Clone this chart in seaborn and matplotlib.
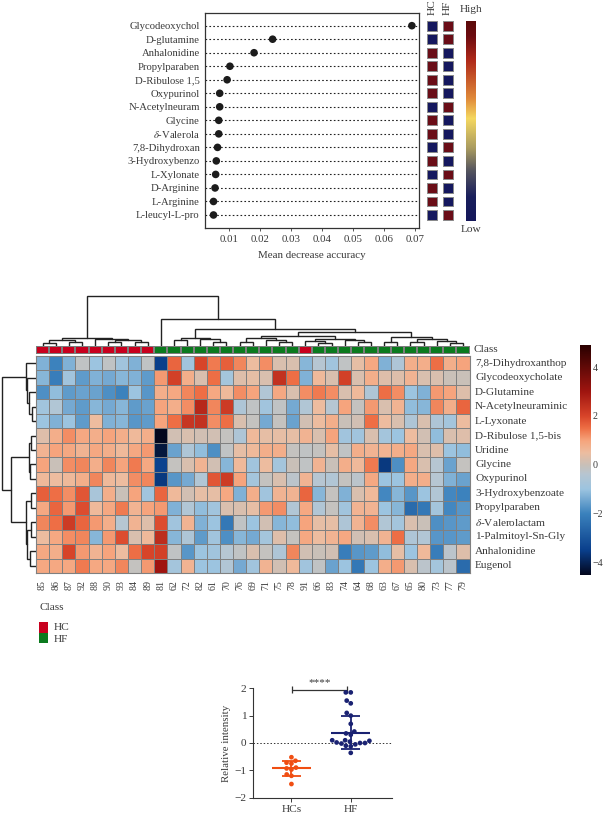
import numpy as np, pandas as pd, matplotlib
matplotlib.use("Agg")
import matplotlib.pyplot as plt
import seaborn as sns
from matplotlib.colors import LinearSegmentedColormap, ListedColormap

# ---------- data ----------
rf_names = ["Glycodeoxychol","D-glutamine","Anhalonidine","Propylparaben","D-Ribulose 1,5","Oxypurinol",
            "N-Acetylneuram","Glycine",r"$\delta$-Valerola","7,8-Dihydroxan","3-Hydroxybenzo","L-Xylonate",
            "D-Arginine","L-Arginine","L-leucyl-L-pro"]
rf_values = [.069,.024,.018,.0102,.0093,.0069,.0069,.0066,.0066,.0062,.0058,.0056,.0054,.0049,.0049]
hc_level = [0,0,1,1,1,1,0,1,1,0,1,0,1,1,0]
hf_level = [1,1,0,0,0,0,1,0,0,1,0,1,0,0,1]

col_labels = [85,86,87,92,88,90,93,84,89,81,62,72,82,61,70,76,69,71,75,78,91,66,83,74,64,68,63,67,65,80,73,77,79]
class_flags = [0]*9+[1]*11+[0]+[1]*12
row_labels = ["7,8-Dihydroxanthop","Glycodeoxycholate","D-Glutamine","N-Acetylneuraminic","L-Lyxonate",
              "D-Ribulose 1,5-bis","Uridine","Glycine","Oxypurinol","3-Hydroxybenzoate","Propylparaben",
              r"$\delta$-Valerolactam","1-Palmitoyl-Sn-Gly","Anhalonidine","Eugenol"]
heat = [
 [-1.3,-2.0,-1.3,-0.2,-1.0,-0.2,-0.9,-1.3,-0.2,-3.5,1.6,-0.9, 2.0,1.4,1.7,1.3,0.5,1.2,0.2,0.2,-1.2,-0.4,-0.9,-0.2,0.4, 0.9,-1.3,-0.6,0.8,0.8,1.5,0.8,1.0],
 [-1.2,-2.1,-0.9,-1.6,-1.3,-1.4,-1.2,-1.3,-1.6,1.1,2.1,0.8, 0.2,1.5,-0.8,0.3,0.4,0.2,2.4,1.5,-1.3,0.6,0.2,2.1,0.2, 0.8,0.3,0.3,0.7,0.2,0.2,0.0,0.0],
 [-1.8,-1.1,-1.6,-1.5,-1.5,-1.8,-2.0,-1.0,-1.7,0.8,0.9,1.3, 1.5,0.9,0.6,1.2,1.0,-0.5,0.9,0.2,1.2,1.4,1.2,0.2,0.6, -0.6,1.5,1.2,-1.0,-1.3,1.1,1.0,0.3],
 [-0.9,-0.5,-1.4,-1.6,-1.2,-1.4,-1.2,-1.6,-1.5,1.0,0.8,1.2, 2.6,1.3,2.2,-0.6,-0.2,-0.9,-0.2,-1.4,-0.5,0.5,-0.4,1.0,-0.1, 1.1,0.2,0.7,-1.1,-1.2,1.3,0.8,1.6],
 [-1.0,-1.3,-1.0,-1.6,0.5,-1.3,-1.2,-1.7,-1.6,1.0,1.5,2.3, 2.4,1.2,1.5,0.2,-0.1,-1.4,-0.1,-1.5,0.1,0.5,0.8,0.0,0.1, 1.5,0.5,0.2,-0.6,0.2,-0.6,-0.8,0.5],
 [0.3,0.8,1.2,0.9,0.8,1.0,0.8,0.6,0.8,-4.5,0.1,0.2, 0.1,0.1,-0.1,-0.6,0.6,0.4,0.4,0.4,0.7,0.2,1.0,-0.9,-0.9, 0.2,-0.8,-1.0,0.5,0.1,-1.1,0.2,0.3],
 [0.7,1.0,0.9,0.7,0.9,0.8,0.6,0.9,1.1,-4.2,-1.5,-0.6, -1.1,-1.8,-0.2,0.4,0.6,0.8,0.8,-0.1,-0.2,-0.1,0.4,-0.2,0.8, 0.7,0.7,0.8,0.9,0.2,0.3,-1.0,-1.1],
 [1.0,0.0,1.2,1.3,0.8,1.3,1.0,1.4,0.9,-3.4,-0.1,0.2, 0.7,0.1,-1.2,0.6,-0.9,0.5,-0.8,0.0,-0.2,0.7,0.0,0.8,0.6, 1.4,-3.6,-1.8,0.9,0.2,-0.4,-1.5,-0.1],
 [0.6,0.5,0.6,0.8,1.3,0.6,0.5,1.2,1.3,-3.6,-1.7,-1.4, -0.5,1.8,2.2,1.0,-0.8,-0.1,0.2,-0.3,0.7,-0.4,-0.5,-0.1,-0.3, 0.9,-1.0,-1.0,0.8,0.8,-0.4,-1.3,-1.5],
 [1.7,1.5,1.2,1.8,-0.7,0.8,0.0,1.0,-0.9,1.6,0.6,0.1, 0.4,0.4,0.9,-1.3,0.8,-0.9,0.7,0.7,1.6,-1.2,-0.1,-1.3,0.2, 0.6,-1.9,-1.2,-1.7,-1.0,-0.5,-1.9,-2.0],
 [0.9,1.6,1.1,1.9,0.6,0.9,1.4,0.7,1.0,1.1,-1.3,-0.5, -1.1,-0.9,0.2,0.2,0.4,1.1,1.2,-0.5,0.9,-0.5,-0.1,-0.9,0.7, 0.7,-1.0,-1.2,-2.5,-2.2,-0.8,-1.9,-1.7],
 [1.3,1.5,2.2,1.6,1.1,0.8,-0.4,0.7,0.3,1.9,-0.9,0.7, -1.3,-1.0,-2.2,-0.2,-1.0,0.1,-1.2,-1.1,1.0,0.4,0.4,-0.6,0.7, 1.2,-0.5,-0.8,0.2,0.0,-1.8,-1.7,-1.6],
 [0.5,0.9,1.2,1.3,-1.2,1.1,1.9,0.2,0.6,2.5,-1.2,-0.6, -1.6,-0.9,-1.8,-1.2,-1.4,-0.8,0.3,-0.1,0.9,0.5,0.7,0.9,0.1, 0.2,0.7,1.5,-0.6,-0.5,-1.7,-1.7,-1.6],
 [0.9,0.8,2.0,1.1,0.7,1.0,0.5,1.5,2.0,2.1,-0.2,-1.7, -1.0,-0.9,-0.4,-0.2,0.2,-0.1,-0.6,1.3,0.1,0.0,0.1,-2.1,-1.7, -1.6,-1.1,0.4,-1.0,0.6,-2.1,-0.3,0.3],
 [0.9,0.9,0.9,1.4,0.9,0.9,1.3,-0.1,1.1,3.0,-0.8,0.7, -1.0,-1.0,-0.5,-1.4,-0.9,0.7,0.1,0.6,-0.9,-0.2,-1.5,-1.0,-2.2, -1.0,0.8,1.1,0.2,-0.3,-0.8,-0.3,-2.5],
]

def N(h, a, b):
    return (h, a, b)
hc_tree = N(8, N(6, N(3,0,1), N(4,2,3)), N(7, 4, N(6, N(3.5,5,6), N(4,7,8))))
l_tree  = N(8, N(5.5,10,11), N(7,12,N(4,13,14)))
a1_tree = N(8, N(4,15,16), N(6,17,N(4,18,19)))
a2_tree = N(7, N(5,20,N(3,21,22)), N(6,23,N(4,24,25)))
b_tree  = N(9, N(4,26,27), N(7,N(4,28,29),N(5,30,N(3,31,32))))
col_tree = N(50, hc_tree, N(27, 9, N(17, l_tree, N(14, N(10,a1_tree,a2_tree), b_tree))))
row_tree = N(34.5, N(10,0,N(9,1,N(7,2,N(4,3,4)))),
             N(25, N(7,N(5,5,6),N(6,7,8)), N(10,N(5,9,10),N(9,N(5,11,12),N(6,13,14)))))

swarm_hc = [-0.52,-0.72,-0.75,-0.9,-0.93,-0.97,-1.15,-1.2,-1.5,-0.65]
swarm_hf = [1.85,1.85,1.55,1.45,1.1,1.0,0.7,0.42,0.35,0.3,0.1,0.1,0.08,0.05,0.02,0.0,0.0,-0.02,-0.05,-0.1,-0.12,-0.36]
group_names = ["HCs","HF"]
group_means = [-0.93,0.38]
group_low = [-1.2,-0.22]
group_high = [-0.65,1.0]

# ---------- style ----------
sns.set_theme(style="white")
plt.rcParams["font.family"] = ["Liberation Serif","DejaVu Serif"]
plt.rcParams["mathtext.fontset"] = "stix"
TXT = "#3a3a3a"
plt.rcParams.update({"text.color":TXT,"axes.labelcolor":TXT,"xtick.color":TXT,"ytick.color":TXT})
W, H = 606, 814
fig = plt.figure(figsize=(W/100, H/100), dpi=100)
def px_ax(x0, y0, x1, y1, **kw):
    return fig.add_axes([x0/W, 1-y1/H, (x1-x0)/W, (y1-y0)/H], **kw)
def ftext(x, y, s, **kw):
    kw.setdefault("color", TXT)
    return fig.text(x/W, 1-y/H, s, **kw)

# ---------- top dot plot ----------
ax = px_ax(205.3, 12.7, 419.3, 227.7)
pos = np.arange(len(rf_names))
ax.hlines(pos, 0.00225, 0.0714, color="#222222", lw=0.8, linestyles=(0,(1.5,2)), zorder=1)
sns.scatterplot(x=rf_values, y=pos, ax=ax, color="#1c1c1c", s=30, edgecolor="none", zorder=3, legend=False)
ax.set_xlim(0.00225, 0.0714); ax.set_ylim(14.94, -0.96)
ax.set_yticks(pos); ax.set_yticklabels(rf_names, fontsize=7.7)
ax.set_xticks([.01,.02,.03,.04,.05,.06,.07]); ax.set_xticklabels(["0.01","0.02","0.03","0.04","0.05","0.06","0.07"], fontsize=7.8)
ax.tick_params(axis="y", length=0, pad=4)
ax.tick_params(axis="x", length=2, width=0.6, pad=3, bottom=True)
ax.set_xlabel("Mean decrease accuracy", fontsize=7.9, labelpad=5)
for s in ax.spines.values():
    s.set_color("#333333"); s.set_linewidth(0.9)

# level squares
ax2 = px_ax(420, 12.7, 460, 227.7)
ax2.axis("off")
for xp, lev in ((432.2, hc_level), (447.7, hf_level)):
    xs = [xp]*len(lev)
    sns.scatterplot(x=xs, y=pos, hue=lev, palette={0:"#15185e",1:"#6a0d17"}, marker="s", s=50,
                    edgecolor="#8a8a8a", linewidth=0.7, ax=ax2, legend=False)
ax2.set_xlim(420, 460); ax2.set_ylim(14.94, -0.96)
ftext(432.5, 15, "HC", rotation=90, ha="center", va="bottom", fontsize=8.2)
ftext(447.5, 15, "HF", rotation=90, ha="center", va="bottom", fontsize=8.2)

# high/low colour bar
cb1 = px_ax(466, 20.7, 476, 220.7)
grad_cmap = LinearSegmentedColormap.from_list("hl", [(0,"#15175a"),(0.12,"#1a1f5c"),(0.25,"#55555f"),(0.36,"#a89a60"),
    (0.51,"#f5d860"),(0.61,"#e08a3a"),(0.80,"#b02a1a"),(0.92,"#6d0c10"),(1,"#5a0a0a")])
cb1.imshow(np.linspace(1,0,256)[:,None], aspect="auto", cmap=grad_cmap)
cb1.axis("off")
ftext(471, 10, "High", ha="center", va="center", fontsize=8.2)
ftext(471, 229, "Low", ha="center", va="center", fontsize=8.2)

# ---------- heat map ----------
vmin, vmax = -4.5, 4.9
stops = [(-4.5,"#03071e"),(-3.5,"#0a3f8c"),(-2,"#3b82bd"),(-1,"#9cc4e0"),(-0.4,"#b6c6d2"),(0,"#c9c0b8"),
         (0.5,"#edbda0"),(1,"#f6a47c"),(1.5,"#ee6f45"),(2,"#d8452a"),(3,"#a01510"),(4.9,"#2a0000")]
heat_cmap = LinearSegmentedColormap.from_list("hm", [((v-vmin)/(vmax-vmin),c) for v,c in stops])
df = pd.DataFrame(heat, index=row_labels, columns=col_labels)
hm = px_ax(36, 356, 469.5, 573)
sns.heatmap(df, ax=hm, cmap=heat_cmap, vmin=vmin, vmax=vmax, cbar=False, linewidths=0.7, linecolor="#808080",
            xticklabels=True, yticklabels=True)
hm.yaxis.tick_right()
hm.tick_params(axis="both", length=0)
hm.tick_params(axis="x", pad=5)
hm.tick_params(axis="y", pad=4)
plt.setp(hm.get_yticklabels(), rotation=0, fontsize=8.1, va="center")
plt.setp(hm.get_xticklabels(), rotation=90, fontsize=7.2)
for s in ("left","bottom","top","right"):
    hm.spines[s].set_visible(True); hm.spines[s].set_color("#808080"); hm.spines[s].set_linewidth(0.8)

cl = px_ax(36, 345.5, 469.5, 353.5)
sns.heatmap(np.array(class_flags)[None,:], ax=cl, cmap=ListedColormap(["#c8001e","#0b7a1e"]), cbar=False,
            linewidths=0.3, linecolor="#7d7d7d", xticklabels=False, yticklabels=False)
ftext(474, 349.5, "Class", va="center", fontsize=8.1)

def draw_tree(ax, node, horizontal=True):
    if not isinstance(node, tuple):
        return node + 0.5, 0.0
    h, a, b = node
    pa, ha = draw_tree(ax, a, horizontal)
    pb, hb = draw_tree(ax, b, horizontal)
    xs, ys = [pa, pa, pb, pb], [ha, h, h, hb]
    if horizontal:
        ax.plot(xs, ys, color="#222222", lw=1.0, solid_joinstyle="miter")
    else:
        ax.plot(ys, xs, color="#222222", lw=1.0, solid_joinstyle="miter")
    return (pa+pb)/2, h

dc = px_ax(36, 290, 469.5, 345.5)
draw_tree(dc, col_tree, True)
dc.set_xlim(0, len(col_labels)); dc.set_ylim(0, 55.5); dc.axis("off")
dr = px_ax(0, 356, 36, 573)
draw_tree(dr, row_tree, False)
dr.set_xlim(36, 0); dr.set_ylim(len(row_labels), 0); dr.axis("off")

# heat map colour bar
cb2 = px_ax(580, 345, 590.7, 575)
cb2.imshow(np.linspace(vmax, vmin, 256)[:,None], aspect="auto", cmap=heat_cmap, vmin=vmin, vmax=vmax,
           extent=[0,1,vmin,vmax])
cb2.set_xticks([]); cb2.yaxis.tick_right(); cb2.set_yticks([-4,-2,0,2,4])
cb2.set_yticklabels(["\u22124","\u22122","0","2","4"], fontsize=7.2)
cb2.tick_params(axis="y", length=0, pad=1.5)
for s in cb2.spines.values():
    s.set_visible(False)

# class legend
ftext(39, 607, "Class", va="center", fontsize=8.2)
lg = px_ax(39, 622, 48, 643)
sns.heatmap(np.array([[0],[1]]), ax=lg, cmap=ListedColormap(["#c8001e","#0b7a1e"]), cbar=False,
            xticklabels=False, yticklabels=False)
ftext(54, 627.5, "HC", va="center", fontsize=8.2)
ftext(54, 640, "HF", va="center", fontsize=8.2)

# ---------- bottom scatter ----------
bx = px_ax(253.3, 688.3, 391.7, 797.7)
swarm_df = pd.DataFrame({"group":[group_names[0]]*len(swarm_hc)+[group_names[1]]*len(swarm_hf),
                         "value":swarm_hc+swarm_hf})
colors = ["#f04e12","#1a2272"]
sns.swarmplot(data=swarm_df, x="group", y="value", hue="group", palette=colors, size=3.4, ax=bx, legend=False, zorder=3)
for i, c in enumerate(colors):
    bx.hlines(group_means[i], i-0.33, i+0.33, color=c, lw=1.5, zorder=4)
    bx.vlines(i, group_low[i], group_high[i], color=c, lw=1.3, zorder=4)
    bx.hlines([group_low[i],group_high[i]], i-0.16, i+0.16, color=c, lw=1.3, zorder=4)
bx.axhline(0, color="#333333", lw=0.7, ls=(0,(1.5,2)), zorder=1)
bx.set_xlim(-0.6426, 1.69); bx.set_ylim(-2, 2)
bx.set_yticks([-2,-1,0,1,2]); bx.set_yticklabels(["\u22122","\u22121","0","1","2"], fontsize=8.2)
bx.set_xticks([0,1]); bx.set_xticklabels(group_names, fontsize=8.2)
bx.set_xlabel(""); bx.set_ylabel("Relative intensity", fontsize=7.8, labelpad=2)
bx.tick_params(axis="both", length=3, width=0.7, pad=2, left=True, bottom=True)
for s in ("top","right"):
    bx.spines[s].set_visible(False)
for s in ("left","bottom"):
    bx.spines[s].set_color("#333333"); bx.spines[s].set_linewidth(0.8)
bx.plot([0.01,0.94],[1.95,1.95], color="#333333", lw=0.9, clip_on=False)
bx.vlines([0.01,0.94],[1.83,1.83],[2.07,2.07], color="#333333", lw=0.9, clip_on=False)
bx.text(0.47, 2.22, "****", ha="center", va="center", fontsize=8, clip_on=False)

fig.savefig("out.png", dpi=100, facecolor="white")
